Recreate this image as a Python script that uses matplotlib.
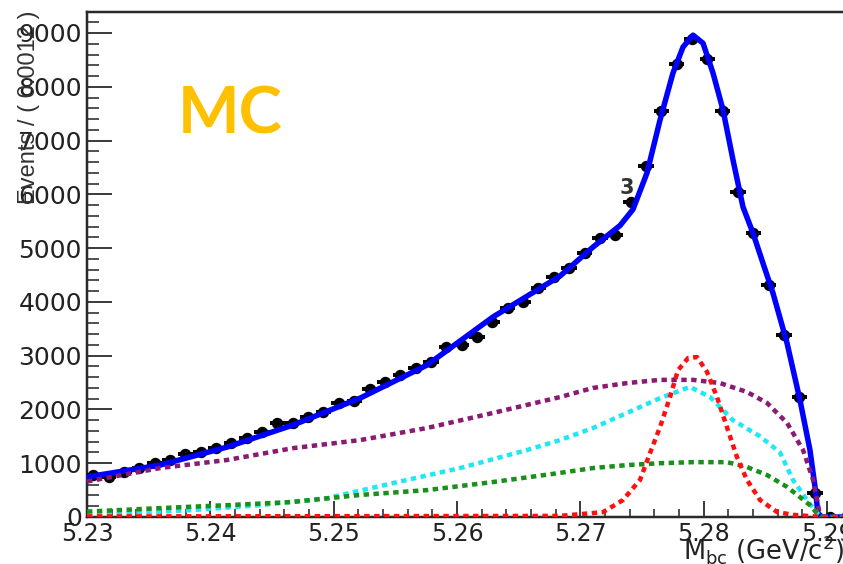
import numpy as np
import matplotlib
matplotlib.use("Agg")
import matplotlib.pyplot as plt
from matplotlib.ticker import MultipleLocator, FormatStrFormatter

# ---------------- data ----------------
bin_width = 0.001245
first_center = 5.2305
counts = [782, 750, 838, 912, 1005, 1061, 1173, 1210, 1285, 1378,
          1471, 1583, 1750, 1750, 1862, 1955, 2123, 2160, 2383, 2514,
          2644, 2774, 2886, 3166, 3203, 3352, 3631, 3892, 4004, 4264,
          4469, 4637, 4900, 5195, 5251, 5866, 6518, 7542, 8417, 8883,
          8510, 7542, 6052, 5288, 4320, 3389, 2235, 447, 0, 0]

total_x = [5.23000, 5.23592, 5.24135, 5.24670, 5.25214, 5.25757, 5.26292, 5.26835,
           5.27103, 5.27322, 5.27427, 5.27541, 5.27646, 5.27751, 5.27833, 5.27914,
           5.27995, 5.28076, 5.28157, 5.28238, 5.28319, 5.28400, 5.28481, 5.28562,
           5.28676, 5.28781, 5.28862, 5.28903, 5.28927, 5.28960, 5.29349]
total_y = [745, 965, 1300, 1710, 2210, 2825, 3720, 4480,
           5020, 5420, 5720, 6400, 7380, 8255, 8740, 8960,
           8810, 8255, 7570, 6640, 5765, 5280, 4720, 4165,
           3235, 2175, 1245, 560, 70, 0, 0]

purple_x = [5.23000, 5.23592, 5.24135, 5.24670, 5.25214, 5.25757, 5.26292, 5.26835,
            5.27103, 5.27378, 5.27646, 5.27914, 5.28133, 5.28351, 5.28514, 5.28676,
            5.28806, 5.28887, 5.28919, 5.28943, 5.28960, 5.29349]
purple_y = [660, 910, 1060, 1280, 1430, 1655, 1935, 2230,
            2400, 2490, 2550, 2550, 2490, 2325, 2120, 1750,
            1245, 690, 316, 40, 0, 0]

cyan_x = [5.23000, 5.23324, 5.23859, 5.24403, 5.24946, 5.25481, 5.26024, 5.26568,
          5.26835, 5.27103, 5.27378, 5.27646, 5.27889, 5.28052, 5.28238, 5.28457,
          5.28619, 5.28724, 5.28838, 5.28919, 5.28960, 5.29349]
cyan_y = [20, 70, 130, 220, 350, 630, 910, 1245,
          1430, 1655, 1935, 2210, 2420, 2230, 1800, 1500,
          1200, 690, 316, 70, 0, 0]

green_x = [5.23000, 5.23592, 5.24135, 5.24670, 5.25214, 5.25757, 5.26292, 5.26835,
           5.27103, 5.27378, 5.27646, 5.27914, 5.28189, 5.28351, 5.28514, 5.28676,
           5.28781, 5.28862, 5.28919, 5.28960, 5.29349]
green_y = [100, 165, 220, 280, 410, 500, 650, 820,
           910, 965, 1000, 1020, 1020, 930, 780, 560,
           370, 220, 70, 0, 0]

red_x = [5.23000, 5.26835, 5.27184, 5.27346, 5.27484, 5.27565, 5.27646, 5.27727,
         5.27792, 5.27873, 5.27946, 5.28027, 5.28108, 5.28189, 5.28270, 5.28351,
         5.28457, 5.28595, 5.28724, 5.28960, 5.29349]
red_y = [10, 20, 90, 316, 690, 1190, 1670, 2230,
         2730, 2955, 2975, 2700, 2230, 1670, 1115, 690,
         316, 93, 40, 0, 0]

x_ticks_major = 0.01
x_ticks_minor = 0.002
y_ticks_major = 1000
y_ticks_minor = 200

# ---------------- figure ----------------
W, H = 843, 564
fig = plt.figure(figsize=(W / 100, H / 100), dpi=100)
fig.patch.set_facecolor("white")

px_per_unit = 12333.0
ax_left_px, ax_right_px = 87, 870
ax_bottom_px, ax_top_px = 517, 11.7
ax = fig.add_axes([ax_left_px / W, (H - ax_bottom_px) / H,
                   (ax_right_px - ax_left_px) / W, (ax_bottom_px - ax_top_px) / H])
ax.set_xlim(5.23, 5.23 + (ax_right_px - ax_left_px) / px_per_unit)
ax.set_ylim(0, 9396)

px = 72.0 / 100.0  # points per pixel

# data points
centers = first_center + bin_width * np.arange(len(counts))
counts_arr = np.array(counts, dtype=float)
ax.errorbar(centers, counts_arr, xerr=bin_width / 2, yerr=np.sqrt(counts_arr),
            fmt="o", color="black", ms=10 * px, elinewidth=4 * px, capsize=0,
            zorder=3, clip_on=True)

# fit curves
ax.plot(total_x, total_y, color="#0000ff", lw=5.5 * px, zorder=4, solid_capstyle="round")
dot = (0, (1.2, 1.0))
ax.plot(purple_x, purple_y, color="#8b1a72", lw=4.5 * px, ls=dot, zorder=5)
ax.plot(cyan_x, cyan_y, color="#1ee8f2", lw=4.5 * px, ls=dot, zorder=5)
ax.plot(green_x, green_y, color="#1a8f1a", lw=4.5 * px, ls=dot, zorder=5)
ax.plot(red_x, red_y, color="#ff1010", lw=4.5 * px, ls=dot, zorder=6)

# axes styling
for side in ("right", "top", "left", "bottom"):
    ax.spines[side].set_color("#2a2a2a")
    ax.spines[side].set_linewidth(2.5 * px)
ax.spines["right"].set_visible(False)

ax.xaxis.set_major_locator(MultipleLocator(x_ticks_major))
ax.xaxis.set_minor_locator(MultipleLocator(x_ticks_minor))
ax.yaxis.set_major_locator(MultipleLocator(y_ticks_major))
ax.yaxis.set_minor_locator(MultipleLocator(y_ticks_minor))
ax.xaxis.set_major_formatter(FormatStrFormatter("%.2f"))
ax.yaxis.set_major_formatter(FormatStrFormatter("%d"))

ax.tick_params(axis="x", which="major", direction="in", length=16 * px, width=1.8 * px,
               color="#2a2a2a", pad=5 * px, labelsize=17, labelcolor="#222222")
ax.tick_params(axis="x", which="minor", direction="in", length=8 * px, width=1.6 * px,
               color="#2a2a2a")
ax.tick_params(axis="y", which="major", direction="in", length=25 * px, width=1.8 * px,
               color="#2a2a2a", pad=5 * px, labelsize=18, labelcolor="#222222")
ax.tick_params(axis="y", which="minor", direction="in", length=12 * px, width=1.6 * px,
               color="#2a2a2a")
for lab in ax.get_xticklabels() + ax.get_yticklabels():
    lab.set_family("DejaVu Sans")

# titles
fig.text(29 / W, 1 - 10 / H, "Events / ( 0.0012 )", rotation=90, ha="center", va="top",
         fontsize=17, family="Liberation Sans", color="#333333")
fig.text(683 / W, 1 - 560 / H, r"M$_{\mathrm{bc}}$ (GeV/c$^{2}$)", ha="left", va="baseline",
         fontsize=18.5, family="DejaVu Sans", color="#222222")

# annotations
ax.text(5.27378, 6118, "3", ha="center", va="center", fontsize=15, fontweight="bold",
        color="#333333", zorder=7)
fig.text(178 / W, 1 - 133 / H, "MC", ha="left", va="baseline", fontsize=47,
         fontweight="bold", family="Lato", color="#ffc000")

fig.savefig("out.png", dpi=100)
